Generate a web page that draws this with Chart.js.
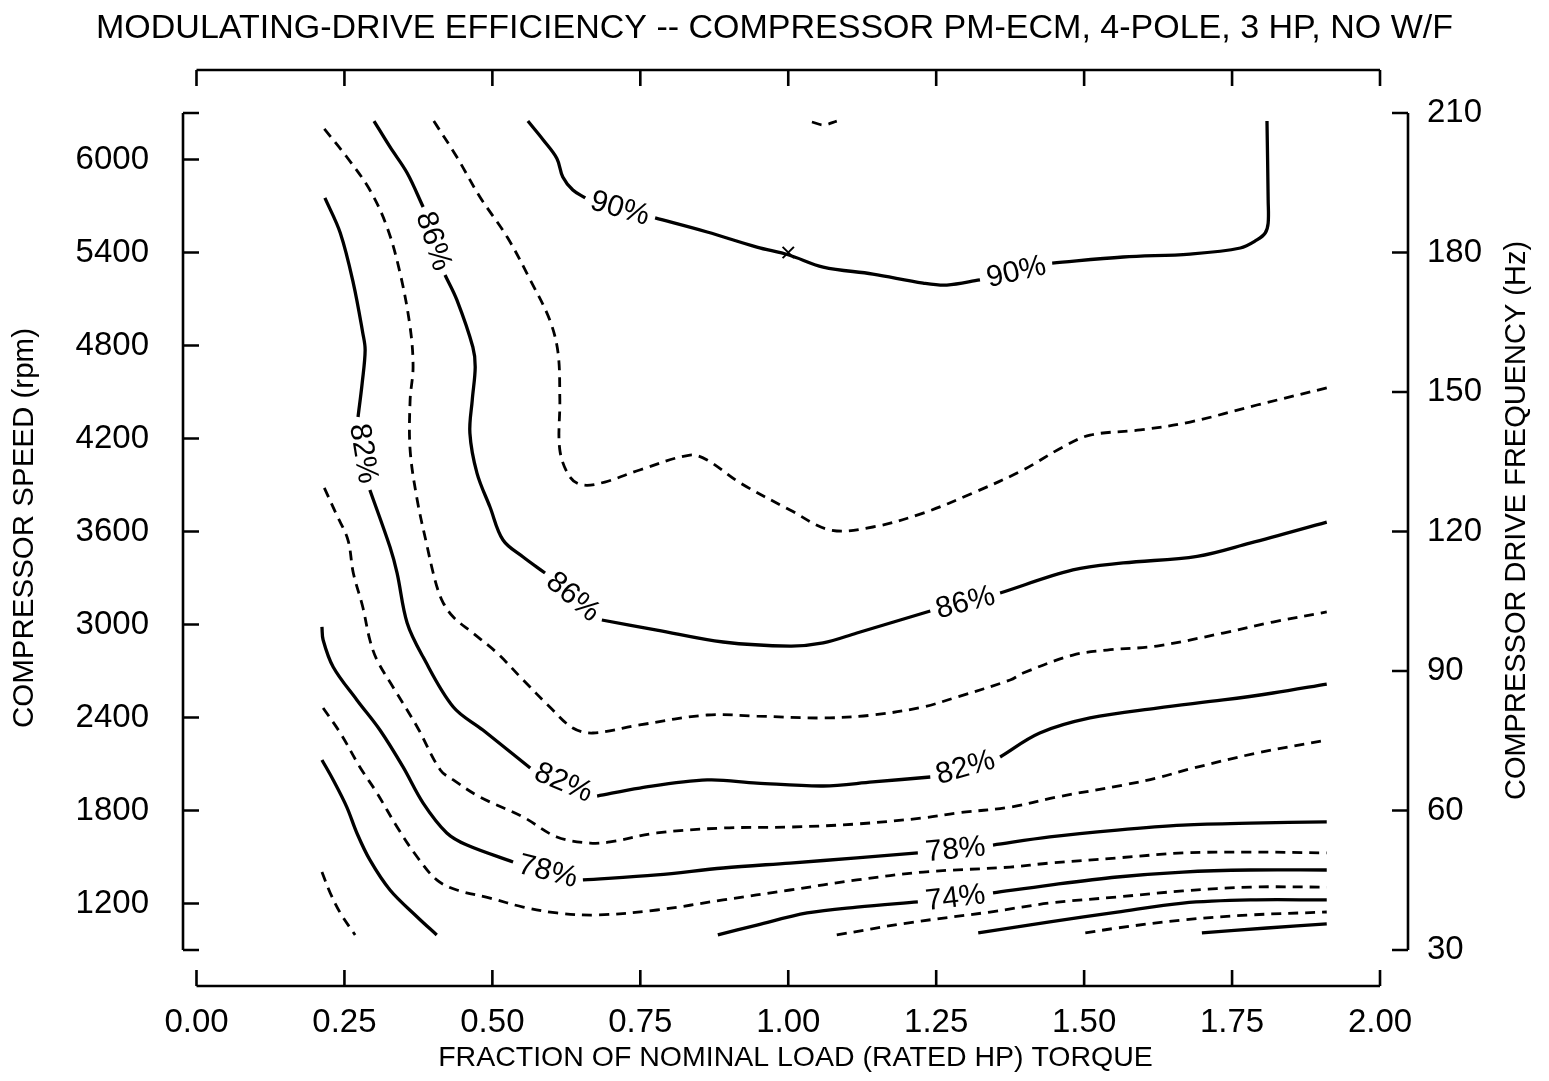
<!DOCTYPE html>
<html><head><meta charset="utf-8">
<script src="https://cdn.jsdelivr.net/npm/chart.js@4.4.1/dist/chart.umd.min.js"></script>
<style>html,body{margin:0;padding:0;background:#fff;}canvas{display:block;}</style>
</head><body>
<canvas id="c" width="1549" height="1081"></canvas>
<script>
const FONT = "'Liberation Sans', Arial, Helvetica, sans-serif";

// ---- text ----
const titleText = 'MODULATING-DRIVE EFFICIENCY -- COMPRESSOR PM-ECM, 4-POLE, 3 HP, NO W/F';
const xTitle = 'FRACTION OF NOMINAL LOAD (RATED HP) TORQUE';
const yTitle = 'COMPRESSOR SPEED (rpm)';
const y2Title = 'COMPRESSOR DRIVE FREQUENCY (Hz)';

// ---- ticks ----
const xTicks = [0, 0.25, 0.5, 0.75, 1, 1.25, 1.5, 1.75, 2];
const rpmTicks = [1200, 1800, 2400, 3000, 3600, 4200, 4800, 5400, 6000];
const rpmRange = [900, 6300];
const hzTicks = [30, 60, 90, 120, 150, 180, 210];
const rpmPerHz = 30;

// ---- contour lines: [torque fraction, rpm]; null = gap (label or break) ----
const eff92 = [[1.040,6242],[1.060,6223],[1.082,6248]];
const eff90 = [[0.560,6248],[0.586,6126],[0.609,6007],[0.619,5887],[0.636,5803],[0.657,5752],null,
  [0.775,5623],[0.863,5532],[0.947,5435],[1.001,5384],[1.059,5306],[1.143,5261],[1.228,5203],[1.268,5190],[1.324,5223],null,
  [1.446,5332],[1.566,5371],[1.679,5390],[1.764,5429],[1.792,5481],[1.806,5526],[1.811,5590],[1.811,5739],[1.809,6248]];
const eff88 = [[0.401,6248],[0.440,6016],[0.479,5758],[0.525,5500],[0.564,5223],[0.597,4964],[0.611,4752],[0.614,4448],
  [0.614,4126],[0.631,3952],[0.653,3900],[0.690,3919],[0.749,3997],[0.834,4093],[0.863,4061],[0.919,3913],[1.003,3739],
  [1.071,3610],[1.143,3629],[1.228,3719],[1.312,3848],[1.397,3997],[1.464,4145],[1.510,4222],[1.595,4255],[1.679,4306],
  [1.792,4416],[1.910,4526]];
const eff86 = [[0.300,6248],[0.327,6081],[0.356,5913],[0.383,5694],null,
  [0.420,5255],[0.440,5094],[0.467,4790],[0.471,4661],[0.466,4448],[0.462,4235],[0.474,3977],[0.496,3758],[0.518,3545],
  [0.552,3435],[0.589,3332],null,
  [0.685,3029],[0.778,2964],[0.890,2887],[1.003,2861],[1.059,2881],[1.116,2945],[1.240,3087],null,
  [1.358,3203],[1.481,3352],[1.566,3397],[1.691,3440],[1.780,3525],[1.910,3661]];
const eff84 = [[0.216,6197],[0.254,6016],[0.293,5803],[0.322,5564],[0.344,5268],[0.361,4919],[0.366,4661],[0.361,4448],
  [0.361,4126],[0.373,3803],[0.390,3500],[0.400,3332],[0.408,3223],[0.417,3139],[0.434,3048],[0.467,2945],[0.508,2816],
  [0.552,2642],[0.597,2468],[0.636,2332],[0.670,2300],[0.749,2352],[0.863,2416],[0.947,2409],[1.059,2397],[1.143,2416],
  [1.228,2468],[1.285,2532],[1.375,2642],[1.397,2687],[1.481,2803],[1.539,2835],[1.623,2861],[1.735,2945],[1.819,3016],
  [1.910,3081]];
const eff82 = [[0.217,5752],[0.243,5526],[0.265,5203],[0.281,4881],[0.285,4771],[0.280,4558],[0.273,4339],null,
  [0.293,3868],[0.327,3500],[0.339,3332],[0.356,3010],[0.383,2790],[0.434,2468],[0.484,2319],[0.564,2074],null,
  [0.677,1893],[0.749,1945],[0.863,1997],[0.947,1977],[1.059,1958],[1.143,1984],[1.240,2016],null,
  [1.358,2145],[1.425,2300],[1.510,2397],[1.623,2461],[1.735,2513],[1.819,2558],[1.910,2616]];
const eff80 = [[0.216,3881],[0.237,3706],[0.256,3545],[0.265,3332],[0.281,3113],[0.293,2900],[0.305,2771],[0.332,2597],
  [0.373,2339],[0.412,2061],[0.434,1997],[0.479,1887],[0.552,1758],[0.609,1629],[0.665,1590],[0.699,1597],[0.778,1655],
  [0.890,1687],[1.003,1693],[1.116,1713],[1.228,1752],[1.285,1784],[1.375,1822],[1.454,1887],[1.566,1964],[1.623,2010],
  [1.679,2068],[1.792,2171],[1.910,2255]];
const eff78 = [[0.212,2984],[0.214,2900],[0.231,2726],[0.271,2513],[0.310,2319],[0.349,2081],[0.383,1848],[0.423,1655],
  [0.457,1577],[0.535,1468],null,
  [0.653,1352],[0.778,1384],[0.890,1429],[1.003,1461],[1.116,1494],[1.219,1526],null,
  [1.346,1577],[1.442,1630],[1.556,1674],[1.667,1706],[1.781,1719],[1.910,1726]];
const eff76 = [[0.214,2461],[0.243,2300],[0.276,2081],[0.305,1913],[0.339,1693],[0.373,1500],[0.406,1352],[0.440,1287],
  [0.496,1235],[0.552,1177],[0.609,1139],[0.677,1126],[0.778,1158],[0.890,1223],[1.003,1287],[1.116,1352],[1.228,1403],
  [1.375,1435],[1.442,1461],[1.556,1494],[1.667,1526],[1.781,1532],[1.910,1526]];
const eff74a = [[0.212,2126],[0.231,1997],[0.254,1822],[0.271,1655],[0.293,1481],[0.327,1287],[0.373,1113],[0.406,997]];
const eff74b = [[0.881,997],[0.947,1061],[1.032,1139],[1.116,1177],[1.219,1210],null,
  [1.346,1268],[1.442,1319],[1.556,1371],[1.667,1403],[1.781,1416],[1.910,1416]];
const eff72a = [[0.212,1403],[0.226,1268],[0.243,1139],[0.268,997]];
const eff72b = [[1.082,997],[1.201,1074],[1.341,1145],[1.442,1203],[1.556,1242],[1.667,1281],[1.781,1306],[1.910,1306]];
const eff70 = [[1.321,1010],[1.442,1081],[1.556,1145],[1.667,1203],[1.781,1223],[1.910,1223]];
const eff68 = [[1.502,1010],[1.556,1042],[1.667,1094],[1.781,1126],[1.910,1145]];
const eff66 = [[1.699,1010],[1.809,1042],[1.910,1068]];
const optimumPoint = [[1.0, 5400]];

// labels written into the gaps of each labelled contour
const lab90 = ['90%', '90%'];
const lab86 = ['86%', '86%', '86%'];
const lab82 = ['82%', '82%', '82%'];
const lab78 = ['78%', '78%'];
const lab74 = ['74%'];

function toXY(arr) {
  return arr.map((p, i) => p ? { x: p[0], y: p[1] } : { x: arr[i - 1][0], y: null });
}
function contour(arr, solid, labels) {
  return {
    data: toXY(arr), showLine: true, borderColor: '#000', backgroundColor: '#000',
    borderWidth: solid ? 3.3 : 2.8, borderDash: solid ? [] : [10, 7],
    pointRadius: 0, pointHoverRadius: 0, tension: 0.35, spanGaps: false, fill: false,
    gapLabels: labels || null
  };
}

const datasets = [
  contour(eff92, false), contour(eff90, true, lab90), contour(eff88, false), contour(eff86, true, lab86),
  contour(eff84, false), contour(eff82, true, lab82), contour(eff80, false), contour(eff78, true, lab78),
  contour(eff76, false), contour(eff74a, true), contour(eff74b, true, lab74), contour(eff72a, false),
  contour(eff72b, false), contour(eff70, true), contour(eff68, false), contour(eff66, true),
  { data: toXY(optimumPoint), showLine: false, pointStyle: 'crossRot', pointRadius: 8, pointBorderWidth: 2,
    pointBorderColor: '#000', borderColor: '#000', backgroundColor: '#000' }
];

const contourLabels = {
  id: 'contourLabels',
  afterDatasetsDraw(chart) {
    const ctx = chart.ctx;
    chart.data.datasets.forEach((ds, di) => {
      if (!ds.gapLabels) return;
      const meta = chart.getDatasetMeta(di);
      let g = 0;
      ds.data.forEach((p, i) => {
        if (p.y !== null) return;
        const text = ds.gapLabels[g++];
        if (!text) return;
        const a = meta.data[i - 1], b = meta.data[i + 1];
        let ang = Math.atan2(b.y - a.y, b.x - a.x);
        if (ang > Math.PI / 2) ang -= Math.PI;
        if (ang < -Math.PI / 2) ang += Math.PI;
        ctx.save();
        ctx.translate((a.x + b.x) / 2, (a.y + b.y) / 2);
        ctx.rotate(ang);
        ctx.font = '30px ' + FONT;
        ctx.fillStyle = '#000';
        ctx.textAlign = 'center';
        ctx.textBaseline = 'middle';
        ctx.fillText(text, 0, 1);
        ctx.restore();
      });
    });
  }
};

const frameAxes = {
  id: 'frameAxes',
  afterDraw(chart) {
    const { ctx, chartArea: ca, scales } = chart;
    const x = scales.x, y = scales.y, y2 = scales.y2;
    const T = 16;
    ctx.save();
    ctx.strokeStyle = '#000';
    ctx.lineWidth = 2.6;
    ctx.beginPath();
    const x0 = x.getPixelForValue(xTicks[0]), x1 = x.getPixelForValue(xTicks[xTicks.length - 1]);
    ctx.moveTo(x0, ca.bottom); ctx.lineTo(x1, ca.bottom);
    ctx.moveTo(x0, ca.top); ctx.lineTo(x1, ca.top);
    xTicks.forEach(v => {
      const px = x.getPixelForValue(v);
      ctx.moveTo(px, ca.bottom); ctx.lineTo(px, ca.bottom - T);
      ctx.moveTo(px, ca.top); ctx.lineTo(px, ca.top + T);
    });
    ctx.moveTo(ca.left, y.getPixelForValue(rpmRange[0])); ctx.lineTo(ca.left, y.getPixelForValue(rpmRange[1]));
    [rpmRange[0], ...rpmTicks, rpmRange[1]].forEach(v => {
      const py = y.getPixelForValue(v);
      ctx.moveTo(ca.left, py); ctx.lineTo(ca.left + T, py);
    });
    ctx.moveTo(ca.right, y2.getPixelForValue(hzTicks[0])); ctx.lineTo(ca.right, y2.getPixelForValue(hzTicks[hzTicks.length - 1]));
    hzTicks.forEach(v => {
      const py = y2.getPixelForValue(v);
      ctx.moveTo(ca.right, py); ctx.lineTo(ca.right - T, py);
    });
    ctx.stroke();
    // right axis title, reading bottom to top
    ctx.font = '29px ' + FONT;
    ctx.fillStyle = '#000';
    ctx.textAlign = 'center';
    ctx.textBaseline = 'middle';
    ctx.translate(ca.right + 109, (y2.getPixelForValue(hzTicks[0]) + y2.getPixelForValue(hzTicks[hzTicks.length - 1])) / 2 - 11);
    ctx.rotate(-Math.PI / 2);
    ctx.fillText(y2Title, 0, 0);
    ctx.restore();
  }
};

Chart.defaults.font.family = FONT;
Chart.defaults.color = '#000';

new Chart(document.getElementById('c'), {
  type: 'line',
  data: { datasets },
  options: {
    responsive: false, animation: false,
    layout: { padding: 0 },
    plugins: {
      legend: { display: false }, tooltip: { enabled: false },
      title: { display: true, text: titleText, color: '#000',
        font: { family: FONT, size: 34, weight: 'normal', lineHeight: 1.2 }, padding: { top: 8, bottom: 21.2 } }
    },
    scales: {
      x: {
        type: 'linear', position: 'bottom', min: -0.0228, max: 2.0473,
        grid: { display: false }, border: { display: false },
        afterBuildTicks: s => { s.ticks = xTicks.map(v => ({ value: v })); },
        afterFit: s => { s.height = 95; },
        ticks: { autoSkip: false, maxRotation: 0, padding: 9, font: { size: 33 }, callback: v => Number(v).toFixed(2) },
        title: { display: true, text: xTitle, font: { size: 28.5, lineHeight: 1.2 }, padding: { top: 0, bottom: 6 } }
      },
      y: {
        type: 'linear', position: 'left', min: 667.7, max: 6577.4,
        grid: { display: false }, border: { display: false },
        afterBuildTicks: s => { s.ticks = rpmTicks.map(v => ({ value: v })); },
        afterFit: s => { s.width = 183; },
        ticks: { autoSkip: false, padding: 26, font: { size: 33 }, callback: v => String(v) },
        title: { display: true, text: yTitle, font: { size: 29.5, lineHeight: 1.2 }, padding: { top: 7, bottom: 0 } }
      },
      y2: {
        type: 'linear', position: 'right', min: 667.7 / rpmPerHz, max: 6577.4 / rpmPerHz,
        grid: { display: false }, border: { display: false },
        afterBuildTicks: s => { s.ticks = hzTicks.map(v => ({ value: v })); },
        afterFit: s => { s.width = 141; },
        ticks: { autoSkip: false, padding: 11, font: { size: 33 }, callback: v => String(v) }
      }
    }
  },
  plugins: [contourLabels, frameAxes]
});
</script>
</body></html>
